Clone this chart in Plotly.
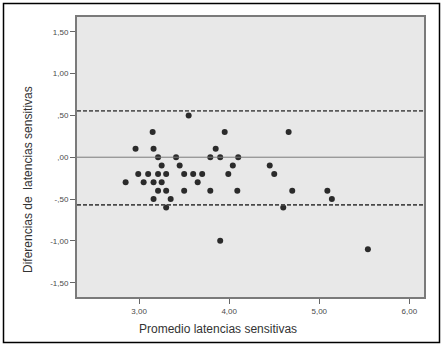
import plotly.graph_objects as go

# Data: Bland-Altman style
mean_lat = [2.85, 2.96, 2.99, 3.05, 3.10, 3.15, 3.16, 3.16, 3.16, 3.21, 3.21, 3.21,
            3.25, 3.25, 3.30, 3.30, 3.30, 3.35, 3.41, 3.45, 3.50, 3.50, 3.55, 3.60,
            3.65, 3.70, 3.79, 3.79, 3.85, 3.90, 3.90, 3.95, 3.99, 4.04, 4.09, 4.10,
            4.45, 4.50, 4.60, 4.66, 4.70, 5.09, 5.14, 5.54]
diff_lat = [-0.3, 0.1, -0.2, -0.3, -0.2, 0.3, 0.1, -0.3, -0.5, 0.0, -0.2, -0.4,
            -0.1, -0.3, -0.2, -0.4, -0.6, -0.5, 0.0, -0.1, -0.2, -0.4, 0.5, -0.2,
            -0.3, -0.2, 0.0, -0.4, 0.1, 0.0, -1.0, 0.3, -0.2, -0.1, -0.4, 0.0,
            -0.1, -0.2, -0.6, 0.3, -0.4, -0.4, -0.5, -1.1]
upper_limit = 0.555
lower_limit = -0.57
mean_diff = 0.0

x_tickvals = [3, 4, 5, 6]
x_ticktext = ["3,00", "4,00", "5,00", "6,00"]
y_tickvals = [1.5, 1.0, 0.5, 0.0, -0.5, -1.0, -1.5]
y_ticktext = ["1,50", "1,00", ",50", ",00", "-,50", "-1,00", "-1,50"]

x_title = "Promedio latencias sensitivas"
y_title = "Diferencias de  latencias sensitivas"

x_range = [2.31, 6.163]
y_range = [-1.671, 1.676]

L, R, T, B = 77, 424, 17, 297
W, H = 445, 346
pw, ph = R - L, B - T

def px(xp):
    return (xp - L) / pw

def py(yp):
    return (B - yp) / ph

fig = go.Figure()
fig.add_trace(go.Scatter(
    x=mean_lat, y=diff_lat, mode="markers",
    marker=dict(size=6, color="#2b2b2b"),
    showlegend=False, hoverinfo="x+y"))

for yv, dash, col, w in [(upper_limit, "4px,2px", "#5a5a5a", 1.8),
                         (lower_limit, "4px,2px", "#4a4a4a", 1.8),
                         (mean_diff, "solid", "#7a7a7a", 1)]:
    fig.add_shape(type="line", xref="x domain", yref="y", x0=0, x1=1, y0=yv, y1=yv,
                  line=dict(color=col, width=w, dash=dash))

# outer frame
fig.add_shape(type="rect", xref="paper", yref="paper",
              x0=px(3.5), x1=px(439.5), y0=py(342.5), y1=py(3.5),
              line=dict(color="black", width=1.5), fillcolor="rgba(0,0,0,0)")

title_font = dict(family="Liberation Sans, Arial, sans-serif", size=12, color="#333333")
fig.add_annotation(text=x_title, xref="paper", yref="paper", x=px(218), y=py(329),
                   showarrow=False, font=title_font, xanchor="center", yanchor="middle")
fig.add_annotation(text=y_title, xref="paper", yref="paper", x=px(28), y=py(180),
                   showarrow=False, font=title_font, textangle=-90,
                   xanchor="center", yanchor="middle")

tick_font = dict(family="Liberation Sans, Arial, sans-serif", size=8, color="#4a4a4a")
fig.update_xaxes(range=x_range, tickvals=x_tickvals, ticktext=x_ticktext,
                 ticks="outside", ticklen=5, tickcolor="#666666", tickwidth=1,
                 showgrid=False, zeroline=False, showline=True, linecolor="#7a7a7a",
                 linewidth=2, mirror=True, tickfont=tick_font, automargin=False)
fig.update_yaxes(range=y_range, tickvals=y_tickvals, ticktext=y_ticktext,
                 ticks="outside", ticklen=5, tickcolor="#666666", tickwidth=1,
                 showgrid=False, zeroline=False, showline=True, linecolor="#7a7a7a",
                 linewidth=2, mirror=True, tickfont=tick_font, automargin=False)

fig.update_layout(width=W, height=H,
                  margin=dict(l=L, r=W - R, t=T, b=H - B, pad=0),
                  plot_bgcolor="#e8e8e8", paper_bgcolor="white",
                  showlegend=False)

fig.write_html("out.html", config={"displayModeBar": False},
               post_script="document.body.style.margin='0';")
